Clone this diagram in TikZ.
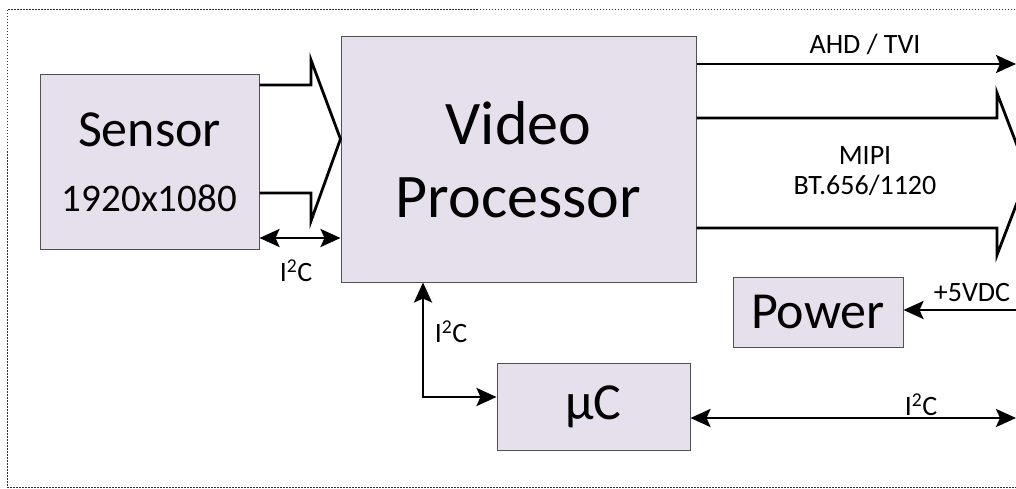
\documentclass[tikz,border=0pt]{standalone}
\usepackage{fontspec}
\setmainfont{Carlito}
\usepackage{xcolor}
\definecolor{boxfill}{HTML}{E6E0EC}
\definecolor{boxline}{HTML}{505050}
\definecolor{frameline}{HTML}{303030}
\usetikzlibrary{arrows.meta, calc}

\begin{document}
\begin{tikzpicture}[x=1pt, y=-1pt,
    block/.style={draw=boxline, fill=boxfill, line width=1pt, inner sep=0pt, align=center},
    bus/.style={line width=2.8pt, line join=miter},
    sig/.style={line width=2.8pt, -{Stealth[length=20pt 0, width=18pt 0, inset=4pt]}},
    bisig/.style={line width=2.8pt, {Stealth[length=20pt 0, width=18pt 0, inset=4pt]}-{Stealth[length=20pt 0, width=18pt 0, inset=4pt]}},
    lbl/.style={font=\fontsize{28}{30}\selectfont, inner sep=0pt}]

    % Page frame, clipped on the right
    \useasboundingbox (0,0) rectangle (1016,489);
    \clip (0,0) rectangle (1016,489);
    \draw[frameline, line width=1pt, dash pattern=on 1.5pt off 1.5pt] (7,10) rectangle (1060,487);

    % Blocks
    \node[block, minimum width=219pt, minimum height=174pt, font=\fontsize{39}{65}\selectfont] (sensor) at (149.5,162)
        {{\fontsize{52}{52}\selectfont Sensor}\\1920x1080};
    \node[block, minimum width=355pt, minimum height=245pt, font=\fontsize{62}{73}\selectfont] (vp) at (518.5,159.5)
        {Video\\Processor};
    \node[block, minimum width=170pt, minimum height=70pt, font=\fontsize{52}{52}\selectfont] (power) at (818,312) {Power};
    \node[block, minimum width=193pt, minimum height=87pt, font=\fontsize{52}{52}\selectfont] (mcu) at (593.5,407) {µC};

    % Free ends at the right edge
    \coordinate (ahd) at (1016,64);
    \coordinate (vin) at (1030,310);
    \coordinate (ext) at (1016,418);

    % Sensor data bus into the processor
    \draw[bus] (sensor.east |- 0,85) -- (311,85) -- (311,60) -- (vp.west |- 0,139)
               -- (311,221) -- (311,193) -- (sensor.east |- 0,193);

    % Sensor control link
    \draw[bisig] (sensor.east |- 0,238) -- (vp.west |- 0,238);
    \node[lbl] (i2cs) at (296,271) {I\textsuperscript{2}C};

    % Analog video output
    \draw[sig] (vp.east |- ahd) -- (ahd);
    \node[lbl] (ahdtxt) at (865,44) {AHD / TVI};

    % Digital video bus out
    \draw[bus] (vp.east |- 0,118) -- (997,118) -- (997,93) -- (1028,174)
               -- (997,255) -- (997,228) -- (vp.east |- 0,228);
    \node[lbl, align=center] (mipi) at (865,171) {MIPI\\BT.656/1120};

    % Supply input
    \draw[sig] (vin) -- (power.east |- vin);
    \node[lbl] (vintxt) at (972,293) {+5VDC};

    % Processor to microcontroller
    \draw[bisig] (vp.south -| 423,0) -- (423,397) -- (mcu.west |- 0,397);
    \node[lbl] (i2cm) at (451,332) {I\textsuperscript{2}C};

    % Microcontroller external link
    \draw[bisig] (mcu.east |- ext) -- (ext);
    \node[lbl] (i2ce) at (921,405) {I\textsuperscript{2}C};

\end{tikzpicture}
\end{document}
